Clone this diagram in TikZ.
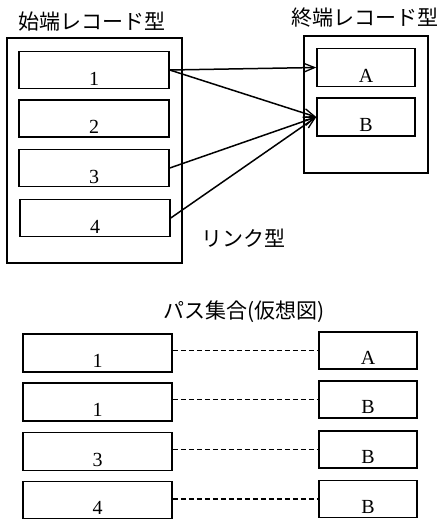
\documentclass[tikz,border=0pt]{standalone}
\usepackage{fontspec}
\setmainfont{Liberation Serif}
\newfontfamily\jpfont{Noto Sans CJK JP}
\usetikzlibrary{arrows.meta}
\tikzset{
  rec/.style={draw, line width=1.5pt, inner sep=0pt},
  lrec/.style={rec, minimum width=150pt, minimum height=37pt},
  rrec/.style={rec, minimum width=98pt, minimum height=38pt},
  lab/.style={anchor=base, font=\fontsize{20}{22}\selectfont, inner sep=0pt},
  ttl/.style={font=\jpfont\fontsize{21}{24}\selectfont, inner sep=0pt},
  link/.style={line width=1.5pt, -{Straight Barb[length=11pt,width=9pt,line width=1.3pt]}},
  path/.style={line width=1.3pt, dash pattern=on 5pt off 3pt}
}
\begin{document}
\begin{tikzpicture}[x=1pt,y=-1pt]
\useasboundingbox (0,0) rectangle (441,520);
% titles
\node[ttl] (t1) at (92,22) {始端レコード型};
\node[ttl] (t2) at (365,18) {終端レコード型};
\node[ttl] (t3) at (243,238) {リンク型};
\node[ttl] (t4) at (244,312) {パス集合(仮想図)};
% outer boxes
\draw[line width=1.5pt] (7,38) rectangle (182,263);
\draw[line width=1.5pt] (304,36) rectangle (428,173);
% start records
\node[lrec] (l1) at (94,70) {};
\node[lrec] (l2) at (94,118.5) {};
\node[lrec] (l3) at (94,168) {};
\node[lrec] (l4) at (95,218) {};
\node[lab] (n1) at ([yshift=4pt]l1.south) {1};
\node[lab] (n2) at ([yshift=4pt]l2.south) {2};
\node[lab] (n3) at ([yshift=4pt]l3.south) {3};
\node[lab] (n4) at ([yshift=4pt]l4.south) {4};
% end records
\node[rrec] (ra) at (366,67.5) {};
\node[rrec] (rb) at (366,117) {};
\node[lab] (na) at ([yshift=5pt]ra.south) {A};
\node[lab] (nb) at ([yshift=5pt]rb.south) {B};
% links
\draw[link] (l1.east) -- (ra.west);
\draw[link] (l1.east) -- (rb.west);
\draw[link] (l3.east) -- (rb.west);
\draw[link] (l4.east) -- (rb.west);
% path set
\node[lrec, minimum width=149pt, minimum height=38pt] (p1) at (97.5,353) {};
\node[lrec, minimum width=149pt, minimum height=38pt] (p2) at (97.5,402) {};
\node[lrec, minimum width=149pt, minimum height=38pt] (p3) at (97.5,451.5) {};
\node[lrec, minimum width=149pt, minimum height=37pt] (p4) at (97.5,500) {};
\node[lab] (m1) at ([yshift=5pt]p1.south) {1};
\node[lab] (m2) at ([yshift=5pt]p2.south) {1};
\node[lab] (m3) at ([yshift=5pt]p3.south) {3};
\node[lab] (m4) at ([yshift=5pt]p4.south) {4};
\node[rrec, minimum height=37pt] (q1) at (368,350.5) {};
\node[rrec, minimum height=37pt] (q2) at (368,399.5) {};
\node[rrec, minimum height=37pt] (q3) at (368,449.5) {};
\node[rrec, minimum height=37pt] (q4) at (368,499) {};
\node[lab] (k1) at ([yshift=5pt]q1.south) {A};
\node[lab] (k2) at ([yshift=5pt]q2.south) {B};
\node[lab] (k3) at ([yshift=5pt]q3.south) {B};
\node[lab] (k4) at ([yshift=5pt]q4.south) {B};
\draw[path] (p1.east |- q1.west) -- (q1.west);
\draw[path] (p2.east |- q2.west) -- (q2.west);
\draw[path] (p3.east |- q3.west) -- (q3.west);
\draw[path] (p4.east |- q4.west) -- (q4.west);
\end{tikzpicture}
\end{document}
